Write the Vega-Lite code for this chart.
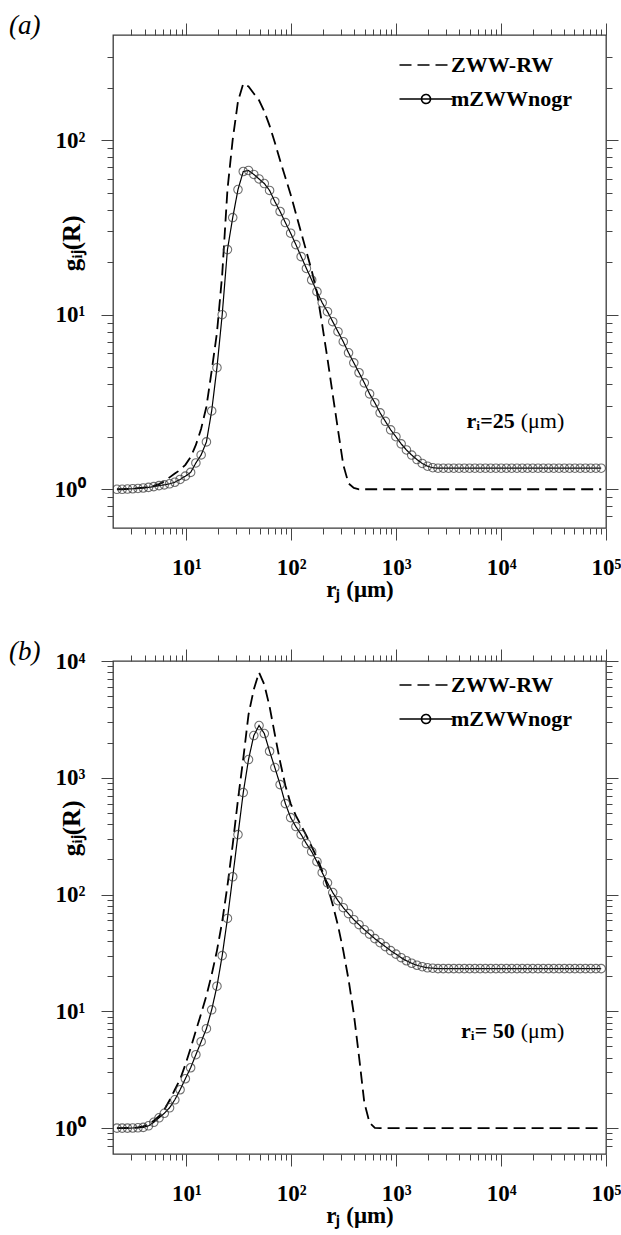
{
  "$schema": "https://vega.github.io/schema/vega-lite/v6.json",
  "background": "white",
  "padding": {"left": 8, "top": 10, "right": 5, "bottom": 5},
  "spacing": 34,
  "config": {
    "view": {"stroke": "#3a3a3a", "strokeWidth": 1.3},
    "axis": {"domain": false, "grid": false, "tickColor": "#444", "tickWidth": 1, "labelFont": "Liberation Serif", "labelFontWeight": "bold", "labelFontSize": 23, "labelColor": "black", "titleFont": "Liberation Serif", "titleFontWeight": "bold", "titleFontSize": 22, "titleColor": "black", "labelFlush": false, "labelOverlap": false, "labelBound": false},
    "legend": {"labelFont": "Liberation Serif", "labelFontWeight": "bold", "labelFontSize": 22, "labelColor": "black"}
  },
  "datasets": {
    "a": [
      {"r":2.18,"g":1,"model":"ZWW-RW"},{"r":2.447,"g":1,"model":"ZWW-RW"},{"r":2.747,"g":1.004,"model":"ZWW-RW"},{"r":3.083,"g":1.009,"model":"ZWW-RW"},{"r":3.461,"g":1.015,"model":"ZWW-RW"},{"r":3.884,"g":1.021,"model":"ZWW-RW"},
      {"r":4.36,"g":1.031,"model":"ZWW-RW"},{"r":4.894,"g":1.045,"model":"ZWW-RW"},{"r":5.493,"g":1.07,"model":"ZWW-RW"},{"r":6.166,"g":1.11,"model":"ZWW-RW"},{"r":6.921,"g":1.17,"model":"ZWW-RW"},{"r":7.769,"g":1.23,"model":"ZWW-RW"},
      {"r":8.72,"g":1.29,"model":"ZWW-RW"},{"r":9.788,"g":1.38,"model":"ZWW-RW"},{"r":10.99,"g":1.53,"model":"ZWW-RW"},{"r":12.33,"g":1.795,"model":"ZWW-RW"},{"r":13.84,"g":2.22,"model":"ZWW-RW"},{"r":15.54,"g":2.97,"model":"ZWW-RW"},
      {"r":17.44,"g":4.77,"model":"ZWW-RW"},{"r":19.58,"g":7.88,"model":"ZWW-RW"},{"r":21.97,"g":16.96,"model":"ZWW-RW"},{"r":24.66,"g":52.1,"model":"ZWW-RW"},{"r":27.68,"g":101,"model":"ZWW-RW"},{"r":31.07,"g":167,"model":"ZWW-RW"},
      {"r":34.88,"g":211,"model":"ZWW-RW"},{"r":39.15,"g":203,"model":"ZWW-RW"},{"r":43.95,"g":185,"model":"ZWW-RW"},{"r":49.33,"g":169,"model":"ZWW-RW"},{"r":55.37,"g":146,"model":"ZWW-RW"},{"r":62.15,"g":121,"model":"ZWW-RW"},
      {"r":69.76,"g":97,"model":"ZWW-RW"},{"r":78.3,"g":76.5,"model":"ZWW-RW"},{"r":87.89,"g":61.1,"model":"ZWW-RW"},{"r":98.66,"g":48.8,"model":"ZWW-RW"},{"r":110.7,"g":38,"model":"ZWW-RW"},{"r":124.3,"g":29.5,"model":"ZWW-RW"},
      {"r":139.5,"g":23,"model":"ZWW-RW"},{"r":156.6,"g":17.9,"model":"ZWW-RW"},{"r":175.8,"g":13.4,"model":"ZWW-RW"},{"r":197.3,"g":8.76,"model":"ZWW-RW"},{"r":221.5,"g":5.59,"model":"ZWW-RW"},{"r":248.6,"g":3.48,"model":"ZWW-RW"},
      {"r":279,"g":2.19,"model":"ZWW-RW"},{"r":313.2,"g":1.38,"model":"ZWW-RW"},{"r":351.6,"g":1.08,"model":"ZWW-RW"},{"r":394.6,"g":1.017,"model":"ZWW-RW"},{"r":442.9,"g":1,"model":"ZWW-RW"},{"r":497.2,"g":1,"model":"ZWW-RW"},
      {"r":558.1,"g":1,"model":"ZWW-RW"},{"r":626.4,"g":1,"model":"ZWW-RW"},{"r":703.1,"g":1,"model":"ZWW-RW"},{"r":789.2,"g":1,"model":"ZWW-RW"},{"r":885.9,"g":1,"model":"ZWW-RW"},{"r":994.4,"g":1,"model":"ZWW-RW"},
      {"r":1116,"g":1,"model":"ZWW-RW"},{"r":1253,"g":1,"model":"ZWW-RW"},{"r":1406,"g":1,"model":"ZWW-RW"},{"r":1579,"g":1,"model":"ZWW-RW"},{"r":1772,"g":1,"model":"ZWW-RW"},{"r":1989,"g":1,"model":"ZWW-RW"},
      {"r":2232,"g":1,"model":"ZWW-RW"},{"r":2506,"g":1,"model":"ZWW-RW"},{"r":2813,"g":1,"model":"ZWW-RW"},{"r":3157,"g":1,"model":"ZWW-RW"},{"r":3544,"g":1,"model":"ZWW-RW"},{"r":3978,"g":1,"model":"ZWW-RW"},
      {"r":4465,"g":1,"model":"ZWW-RW"},{"r":5012,"g":1,"model":"ZWW-RW"},{"r":5625,"g":1,"model":"ZWW-RW"},{"r":6314,"g":1,"model":"ZWW-RW"},{"r":7087,"g":1,"model":"ZWW-RW"},{"r":7955,"g":1,"model":"ZWW-RW"},
      {"r":8929,"g":1,"model":"ZWW-RW"},{"r":10022,"g":1,"model":"ZWW-RW"},{"r":11250,"g":1,"model":"ZWW-RW"},{"r":12627,"g":1,"model":"ZWW-RW"},{"r":14174,"g":1,"model":"ZWW-RW"},{"r":15909,"g":1,"model":"ZWW-RW"},
      {"r":17858,"g":1,"model":"ZWW-RW"},{"r":20045,"g":1,"model":"ZWW-RW"},{"r":22500,"g":1,"model":"ZWW-RW"},{"r":25255,"g":1,"model":"ZWW-RW"},{"r":28348,"g":1,"model":"ZWW-RW"},{"r":31818,"g":1,"model":"ZWW-RW"},
      {"r":35717,"g":1,"model":"ZWW-RW"},{"r":40090,"g":1,"model":"ZWW-RW"},{"r":45000,"g":1,"model":"ZWW-RW"},{"r":50511,"g":1,"model":"ZWW-RW"},{"r":56696,"g":1,"model":"ZWW-RW"},{"r":63637,"g":1,"model":"ZWW-RW"},
      {"r":71434,"g":1,"model":"ZWW-RW"},{"r":80182,"g":1,"model":"ZWW-RW"},{"r":90001,"g":1,"model":"ZWW-RW"},

      {"r":2.18,"g":1,"model":"mZWWnogr"},{"r":2.447,"g":1,"model":"mZWWnogr"},{"r":2.747,"g":1.003,"model":"mZWWnogr"},{"r":3.083,"g":1.007,"model":"mZWWnogr"},{"r":3.461,"g":1.011,"model":"mZWWnogr"},{"r":3.884,"g":1.017,"model":"mZWWnogr"},
      {"r":4.36,"g":1.025,"model":"mZWWnogr"},{"r":4.894,"g":1.036,"model":"mZWWnogr"},{"r":5.493,"g":1.049,"model":"mZWWnogr"},{"r":6.166,"g":1.06,"model":"mZWWnogr"},{"r":6.921,"g":1.075,"model":"mZWWnogr"},{"r":7.769,"g":1.097,"model":"mZWWnogr"},
      {"r":8.72,"g":1.138,"model":"mZWWnogr"},{"r":9.788,"g":1.189,"model":"mZWWnogr"},{"r":10.99,"g":1.249,"model":"mZWWnogr"},{"r":12.33,"g":1.415,"model":"mZWWnogr"},{"r":13.84,"g":1.573,"model":"mZWWnogr"},{"r":15.54,"g":1.868,"model":"mZWWnogr"},
      {"r":17.44,"g":2.81,"model":"mZWWnogr"},{"r":19.58,"g":4.97,"model":"mZWWnogr"},{"r":21.97,"g":10,"model":"mZWWnogr"},{"r":24.66,"g":23.6,"model":"mZWWnogr"},{"r":27.68,"g":36,"model":"mZWWnogr"},{"r":31.07,"g":52.1,"model":"mZWWnogr"},
      {"r":34.88,"g":66.1,"model":"mZWWnogr"},{"r":39.15,"g":67,"model":"mZWWnogr"},{"r":43.95,"g":63.6,"model":"mZWWnogr"},{"r":49.33,"g":59.9,"model":"mZWWnogr"},{"r":55.37,"g":56.4,"model":"mZWWnogr"},{"r":62.15,"g":51.5,"model":"mZWWnogr"},
      {"r":69.76,"g":44.5,"model":"mZWWnogr"},{"r":78.3,"g":39,"model":"mZWWnogr"},{"r":87.89,"g":33.7,"model":"mZWWnogr"},{"r":98.66,"g":29.3,"model":"mZWWnogr"},{"r":110.7,"g":25.2,"model":"mZWWnogr"},{"r":124.3,"g":21.5,"model":"mZWWnogr"},
      {"r":139.5,"g":18.4,"model":"mZWWnogr"},{"r":156.6,"g":15.8,"model":"mZWWnogr"},{"r":175.8,"g":13.55,"model":"mZWWnogr"},{"r":197.3,"g":11.7,"model":"mZWWnogr"},{"r":221.5,"g":10.4,"model":"mZWWnogr"},{"r":248.6,"g":9.12,"model":"mZWWnogr"},
      {"r":279,"g":7.99,"model":"mZWWnogr"},{"r":313.2,"g":7,"model":"mZWWnogr"},{"r":351.6,"g":6.05,"model":"mZWWnogr"},{"r":394.6,"g":5.3,"model":"mZWWnogr"},{"r":442.9,"g":4.65,"model":"mZWWnogr"},{"r":497.2,"g":4.07,"model":"mZWWnogr"},
      {"r":558.1,"g":3.52,"model":"mZWWnogr"},{"r":626.4,"g":3.13,"model":"mZWWnogr"},{"r":703.1,"g":2.74,"model":"mZWWnogr"},{"r":789.2,"g":2.45,"model":"mZWWnogr"},{"r":885.9,"g":2.19,"model":"mZWWnogr"},{"r":994.4,"g":2,"model":"mZWWnogr"},
      {"r":1116,"g":1.82,"model":"mZWWnogr"},{"r":1253,"g":1.68,"model":"mZWWnogr"},{"r":1406,"g":1.57,"model":"mZWWnogr"},{"r":1579,"g":1.48,"model":"mZWWnogr"},{"r":1772,"g":1.406,"model":"mZWWnogr"},{"r":1989,"g":1.355,"model":"mZWWnogr"},
      {"r":2232,"g":1.329,"model":"mZWWnogr"},{"r":2506,"g":1.32,"model":"mZWWnogr"},{"r":2813,"g":1.32,"model":"mZWWnogr"},{"r":3157,"g":1.32,"model":"mZWWnogr"},{"r":3544,"g":1.32,"model":"mZWWnogr"},{"r":3978,"g":1.32,"model":"mZWWnogr"},
      {"r":4465,"g":1.32,"model":"mZWWnogr"},{"r":5012,"g":1.32,"model":"mZWWnogr"},{"r":5625,"g":1.32,"model":"mZWWnogr"},{"r":6314,"g":1.32,"model":"mZWWnogr"},{"r":7087,"g":1.32,"model":"mZWWnogr"},{"r":7955,"g":1.32,"model":"mZWWnogr"},
      {"r":8929,"g":1.32,"model":"mZWWnogr"},{"r":10022,"g":1.32,"model":"mZWWnogr"},{"r":11250,"g":1.32,"model":"mZWWnogr"},{"r":12627,"g":1.32,"model":"mZWWnogr"},{"r":14174,"g":1.32,"model":"mZWWnogr"},{"r":15909,"g":1.32,"model":"mZWWnogr"},
      {"r":17858,"g":1.32,"model":"mZWWnogr"},{"r":20045,"g":1.32,"model":"mZWWnogr"},{"r":22500,"g":1.32,"model":"mZWWnogr"},{"r":25255,"g":1.32,"model":"mZWWnogr"},{"r":28348,"g":1.32,"model":"mZWWnogr"},{"r":31818,"g":1.32,"model":"mZWWnogr"},
      {"r":35717,"g":1.32,"model":"mZWWnogr"},{"r":40090,"g":1.32,"model":"mZWWnogr"},{"r":45000,"g":1.32,"model":"mZWWnogr"},{"r":50511,"g":1.32,"model":"mZWWnogr"},{"r":56696,"g":1.32,"model":"mZWWnogr"},{"r":63637,"g":1.32,"model":"mZWWnogr"},
      {"r":71434,"g":1.32,"model":"mZWWnogr"},{"r":80182,"g":1.32,"model":"mZWWnogr"},{"r":90001,"g":1.32,"model":"mZWWnogr"}
    ],
    "b": [
      {"r":2.18,"g":1,"model":"ZWW-RW"},{"r":2.447,"g":1,"model":"ZWW-RW"},{"r":2.747,"g":1.002,"model":"ZWW-RW"},{"r":3.083,"g":1.006,"model":"ZWW-RW"},{"r":3.461,"g":1.016,"model":"ZWW-RW"},{"r":3.884,"g":1.036,"model":"ZWW-RW"},
      {"r":4.36,"g":1.078,"model":"ZWW-RW"},{"r":4.894,"g":1.155,"model":"ZWW-RW"},{"r":5.493,"g":1.262,"model":"ZWW-RW"},{"r":6.166,"g":1.435,"model":"ZWW-RW"},{"r":6.921,"g":1.73,"model":"ZWW-RW"},{"r":7.769,"g":2.13,"model":"ZWW-RW"},
      {"r":8.72,"g":2.62,"model":"ZWW-RW"},{"r":9.788,"g":3.49,"model":"ZWW-RW"},{"r":10.99,"g":4.83,"model":"ZWW-RW"},{"r":12.33,"g":6.82,"model":"ZWW-RW"},{"r":13.84,"g":9.54,"model":"ZWW-RW"},{"r":15.54,"g":13.6,"model":"ZWW-RW"},
      {"r":17.44,"g":20.6,"model":"ZWW-RW"},{"r":19.58,"g":33.1,"model":"ZWW-RW"},{"r":21.97,"g":58.6,"model":"ZWW-RW"},{"r":24.66,"g":119,"model":"ZWW-RW"},{"r":27.68,"g":268,"model":"ZWW-RW"},{"r":31.07,"g":651,"model":"ZWW-RW"},
      {"r":34.88,"g":1461,"model":"ZWW-RW"},{"r":39.15,"g":3479,"model":"ZWW-RW"},{"r":43.95,"g":5700,"model":"ZWW-RW"},{"r":49.33,"g":7970,"model":"ZWW-RW"},{"r":55.37,"g":6290,"model":"ZWW-RW"},{"r":62.15,"g":4075,"model":"ZWW-RW"},
      {"r":69.76,"g":2346,"model":"ZWW-RW"},{"r":78.3,"g":1376,"model":"ZWW-RW"},{"r":87.89,"g":858,"model":"ZWW-RW"},{"r":98.66,"g":601,"model":"ZWW-RW"},{"r":110.7,"g":474,"model":"ZWW-RW"},{"r":124.3,"g":389,"model":"ZWW-RW"},
      {"r":139.5,"g":320,"model":"ZWW-RW"},{"r":156.6,"g":257,"model":"ZWW-RW"},{"r":175.8,"g":207,"model":"ZWW-RW"},{"r":197.3,"g":160,"model":"ZWW-RW"},{"r":221.5,"g":117,"model":"ZWW-RW"},{"r":248.6,"g":81.9,"model":"ZWW-RW"},
      {"r":279,"g":54.1,"model":"ZWW-RW"},{"r":313.2,"g":33.1,"model":"ZWW-RW"},{"r":351.6,"g":18.7,"model":"ZWW-RW"},{"r":394.6,"g":9.54,"model":"ZWW-RW"},{"r":442.9,"g":4.08,"model":"ZWW-RW"},{"r":497.2,"g":1.65,"model":"ZWW-RW"},
      {"r":558.1,"g":1.11,"model":"ZWW-RW"},{"r":626.4,"g":1.006,"model":"ZWW-RW"},{"r":703.1,"g":1,"model":"ZWW-RW"},{"r":789.2,"g":1,"model":"ZWW-RW"},{"r":885.9,"g":1,"model":"ZWW-RW"},{"r":994.4,"g":1,"model":"ZWW-RW"},
      {"r":1116,"g":1,"model":"ZWW-RW"},{"r":1253,"g":1,"model":"ZWW-RW"},{"r":1406,"g":1,"model":"ZWW-RW"},{"r":1579,"g":1,"model":"ZWW-RW"},{"r":1772,"g":1,"model":"ZWW-RW"},{"r":1989,"g":1,"model":"ZWW-RW"},
      {"r":2232,"g":1,"model":"ZWW-RW"},{"r":2506,"g":1,"model":"ZWW-RW"},{"r":2813,"g":1,"model":"ZWW-RW"},{"r":3157,"g":1,"model":"ZWW-RW"},{"r":3544,"g":1,"model":"ZWW-RW"},{"r":3978,"g":1,"model":"ZWW-RW"},
      {"r":4465,"g":1,"model":"ZWW-RW"},{"r":5012,"g":1,"model":"ZWW-RW"},{"r":5625,"g":1,"model":"ZWW-RW"},{"r":6314,"g":1,"model":"ZWW-RW"},{"r":7087,"g":1,"model":"ZWW-RW"},{"r":7955,"g":1,"model":"ZWW-RW"},
      {"r":8929,"g":1,"model":"ZWW-RW"},{"r":10022,"g":1,"model":"ZWW-RW"},{"r":11250,"g":1,"model":"ZWW-RW"},{"r":12627,"g":1,"model":"ZWW-RW"},{"r":14174,"g":1,"model":"ZWW-RW"},{"r":15909,"g":1,"model":"ZWW-RW"},
      {"r":17858,"g":1,"model":"ZWW-RW"},{"r":20045,"g":1,"model":"ZWW-RW"},{"r":22500,"g":1,"model":"ZWW-RW"},{"r":25255,"g":1,"model":"ZWW-RW"},{"r":28348,"g":1,"model":"ZWW-RW"},{"r":31818,"g":1,"model":"ZWW-RW"},
      {"r":35717,"g":1,"model":"ZWW-RW"},{"r":40090,"g":1,"model":"ZWW-RW"},{"r":45000,"g":1,"model":"ZWW-RW"},{"r":50511,"g":1,"model":"ZWW-RW"},{"r":56696,"g":1,"model":"ZWW-RW"},{"r":63637,"g":1,"model":"ZWW-RW"},
      {"r":71434,"g":1,"model":"ZWW-RW"},{"r":80182,"g":1,"model":"ZWW-RW"},{"r":90001,"g":1,"model":"ZWW-RW"},

      {"r":2.18,"g":1,"model":"mZWWnogr"},{"r":2.447,"g":1,"model":"mZWWnogr"},{"r":2.747,"g":1,"model":"mZWWnogr"},{"r":3.083,"g":1.002,"model":"mZWWnogr"},{"r":3.461,"g":1.006,"model":"mZWWnogr"},{"r":3.884,"g":1.014,"model":"mZWWnogr"},
      {"r":4.36,"g":1.046,"model":"mZWWnogr"},{"r":4.894,"g":1.121,"model":"mZWWnogr"},{"r":5.493,"g":1.225,"model":"mZWWnogr"},{"r":6.166,"g":1.339,"model":"mZWWnogr"},{"r":6.921,"g":1.493,"model":"mZWWnogr"},{"r":7.769,"g":1.748,"model":"mZWWnogr"},
      {"r":8.72,"g":2.13,"model":"mZWWnogr"},{"r":9.788,"g":2.646,"model":"mZWWnogr"},{"r":10.99,"g":3.287,"model":"mZWWnogr"},{"r":12.33,"g":4.25,"model":"mZWWnogr"},{"r":13.84,"g":5.49,"model":"mZWWnogr"},{"r":15.54,"g":7.1,"model":"mZWWnogr"},
      {"r":17.44,"g":10.3,"model":"mZWWnogr"},{"r":19.58,"g":16.4,"model":"mZWWnogr"},{"r":21.97,"g":30,"model":"mZWWnogr"},{"r":24.66,"g":62.4,"model":"mZWWnogr"},{"r":27.68,"g":142,"model":"mZWWnogr"},{"r":31.07,"g":326,"model":"mZWWnogr"},
      {"r":34.88,"g":747,"model":"mZWWnogr"},{"r":39.15,"g":1432,"model":"mZWWnogr"},{"r":43.95,"g":2299,"model":"mZWWnogr"},{"r":49.33,"g":2802,"model":"mZWWnogr"},{"r":55.37,"g":2392,"model":"mZWWnogr"},{"r":62.15,"g":1687,"model":"mZWWnogr"},
      {"r":69.76,"g":1223,"model":"mZWWnogr"},{"r":78.3,"g":874,"model":"mZWWnogr"},{"r":87.89,"g":601,"model":"mZWWnogr"},{"r":98.66,"g":456,"model":"mZWWnogr"},{"r":110.7,"g":382,"model":"mZWWnogr"},{"r":124.3,"g":326,"model":"mZWWnogr"},
      {"r":139.5,"g":273,"model":"mZWWnogr"},{"r":156.6,"g":233,"model":"mZWWnogr"},{"r":175.8,"g":191,"model":"mZWWnogr"},{"r":197.3,"g":154,"model":"mZWWnogr"},{"r":221.5,"g":126,"model":"mZWWnogr"},{"r":248.6,"g":104,"model":"mZWWnogr"},
      {"r":279,"g":88.6,"model":"mZWWnogr"},{"r":313.2,"g":77.2,"model":"mZWWnogr"},{"r":351.6,"g":68.6,"model":"mZWWnogr"},{"r":394.6,"g":60.9,"model":"mZWWnogr"},{"r":442.9,"g":55.2,"model":"mZWWnogr"},{"r":497.2,"g":50,"model":"mZWWnogr"},
      {"r":558.1,"g":45.8,"model":"mZWWnogr"},{"r":626.4,"g":41.9,"model":"mZWWnogr"},{"r":703.1,"g":38.7,"model":"mZWWnogr"},{"r":789.2,"g":35.8,"model":"mZWWnogr"},{"r":885.9,"g":33.1,"model":"mZWWnogr"},{"r":994.4,"g":30.9,"model":"mZWWnogr"},
      {"r":1116,"g":28.8,"model":"mZWWnogr"},{"r":1253,"g":27.1,"model":"mZWWnogr"},{"r":1406,"g":25.8,"model":"mZWWnogr"},{"r":1579,"g":24.8,"model":"mZWWnogr"},{"r":1772,"g":24.1,"model":"mZWWnogr"},{"r":1989,"g":23.6,"model":"mZWWnogr"},
      {"r":2232,"g":23.4,"model":"mZWWnogr"},{"r":2506,"g":23.2,"model":"mZWWnogr"},{"r":2813,"g":23.2,"model":"mZWWnogr"},{"r":3157,"g":23.2,"model":"mZWWnogr"},{"r":3544,"g":23.2,"model":"mZWWnogr"},{"r":3978,"g":23.2,"model":"mZWWnogr"},
      {"r":4465,"g":23.2,"model":"mZWWnogr"},{"r":5012,"g":23.2,"model":"mZWWnogr"},{"r":5625,"g":23.2,"model":"mZWWnogr"},{"r":6314,"g":23.2,"model":"mZWWnogr"},{"r":7087,"g":23.2,"model":"mZWWnogr"},{"r":7955,"g":23.2,"model":"mZWWnogr"},
      {"r":8929,"g":23.2,"model":"mZWWnogr"},{"r":10022,"g":23.2,"model":"mZWWnogr"},{"r":11250,"g":23.2,"model":"mZWWnogr"},{"r":12627,"g":23.2,"model":"mZWWnogr"},{"r":14174,"g":23.2,"model":"mZWWnogr"},{"r":15909,"g":23.2,"model":"mZWWnogr"},
      {"r":17858,"g":23.2,"model":"mZWWnogr"},{"r":20045,"g":23.2,"model":"mZWWnogr"},{"r":22500,"g":23.2,"model":"mZWWnogr"},{"r":25255,"g":23.2,"model":"mZWWnogr"},{"r":28348,"g":23.2,"model":"mZWWnogr"},{"r":31818,"g":23.2,"model":"mZWWnogr"},
      {"r":35717,"g":23.2,"model":"mZWWnogr"},{"r":40090,"g":23.2,"model":"mZWWnogr"},{"r":45000,"g":23.2,"model":"mZWWnogr"},{"r":50511,"g":23.2,"model":"mZWWnogr"},{"r":56696,"g":23.2,"model":"mZWWnogr"},{"r":63637,"g":23.2,"model":"mZWWnogr"},
      {"r":71434,"g":23.2,"model":"mZWWnogr"},{"r":80182,"g":23.2,"model":"mZWWnogr"},{"r":90001,"g":23.2,"model":"mZWWnogr"}
    ]
  },
  "vconcat": [
    {
      "title": {"text": "(a)", "anchor": "start", "frame": "group", "dx": -104, "dy": 17, "offset": 0, "font": "Liberation Serif", "fontStyle": "italic", "fontWeight": "normal", "fontSize": 27, "color": "black"},
      "width": 493,
      "height": 493,
      "data": {"name": "a"},
      "layer": [
        {
          "transform": [{"filter": "datum.model === 'ZWW-RW'"}],
          "mark": {"type": "line", "color": "black", "strokeWidth": 1.8, "clip": true},
          "encoding": {
            "x": {"field": "r", "type": "quantitative", "scale": {"type": "log", "domain": [2, 100000], "nice": false},
              "axis": {"orient": "bottom", "values": [3,4,5,6,7,8,9,10,20,30,40,50,60,70,80,90,100,200,300,400,500,600,700,800,900,1000,2000,3000,4000,5000,6000,7000,8000,9000,10000,20000,30000,40000,50000,60000,70000,80000,90000,100000],
                "labelExpr": "datum.value == 10 ? '10¹' : datum.value == 100 ? '10²' : datum.value == 1000 ? '10³' : datum.value == 10000 ? '10⁴' : datum.value == 100000 ? '10⁵' : ''",
                "tickSize": {"condition": {"test": "datum.value == 10 || datum.value == 100 || datum.value == 1000 || datum.value == 10000 || datum.value == 100000", "value": 12}, "value": 6},
                "labelPadding": 16, "title": "rⱼ (μm)", "titleFontSize": 23, "titleX": 246.5, "titleY": 61, "titleBaseline": "middle"}},
            "y": {"field": "g", "type": "quantitative", "scale": {"type": "log", "domain": [0.6, 400], "nice": false},
              "axis": {"orient": "left", "values": [0.7,0.8,0.9,1,2,3,4,5,6,7,8,9,10,20,30,40,50,60,70,80,90,100,200,300],
                "labelExpr": "datum.value == 1 ? '10⁰' : datum.value == 10 ? '10¹' : datum.value == 100 ? '10²' : ''",
                "tickSize": {"condition": {"test": "datum.value == 1 || datum.value == 10 || datum.value == 100", "value": 12}, "value": 6},
                "labelPadding": 16, "title": "gᵢⱼ(R)", "titleFontSize": 25, "titleAngle": -90, "titleAlign": "right", "titleX": -42, "titleY": 180, "titleBaseline": "middle"}},
            "strokeDash": {"field": "model", "type": "nominal", "scale": {"domain": ["ZWW-RW", "mZWWnogr"], "range": [[12, 6], [1, 0]]},
              "legend": {"orient": "none", "legendX": 302, "legendY": 19, "title": null, "symbolSize": 400, "symbolStrokeWidth": 1.6, "symbolStrokeColor": "black", "symbolFillColor": "transparent", "labelOffset": 14, "rowPadding": 12,
                "encode": {"symbols": {"update": {"shape": {"signal": "datum.value === 'ZWW-RW' ? 'M-2.65,0H2.65' : 'M-2.65,0H2.65M-0.45,0A0.45,0.45,0,1,0,0.45,0A0.45,0.45,0,1,0,-0.45,0'"}}}}}}
          }
        },
        {
          "transform": [{"filter": "datum.model === 'mZWWnogr'"}],
          "mark": {"type": "line", "color": "black", "strokeWidth": 1.2, "clip": true},
          "encoding": {
            "x": {"field": "r", "type": "quantitative", "axis": null},
            "y": {"field": "g", "type": "quantitative", "axis": null},
            "strokeDash": {"field": "model", "type": "nominal"}
          }
        },
        {
          "transform": [{"filter": "datum.model === 'mZWWnogr'"}],
          "mark": {"type": "point", "shape": "circle", "filled": false, "size": 72, "color": "#333", "strokeWidth": 1.1, "clip": true},
          "encoding": {
            "x": {"field": "r", "type": "quantitative",
              "axis": {"orient": "top", "values": [3,4,5,6,7,8,9,10,20,30,40,50,60,70,80,90,100,200,300,400,500,600,700,800,900,1000,2000,3000,4000,5000,6000,7000,8000,9000,10000,20000,30000,40000,50000,60000,70000,80000,90000,100000], "labels": false, "title": null,
                "tickSize": {"condition": {"test": "datum.value == 10 || datum.value == 100 || datum.value == 1000 || datum.value == 10000 || datum.value == 100000", "value": 12}, "value": 6}}},
            "y": {"field": "g", "type": "quantitative",
              "axis": {"orient": "right", "values": [0.7,0.8,0.9,1,2,3,4,5,6,7,8,9,10,20,30,40,50,60,70,80,90,100,200,300], "labels": false, "title": null,
                "tickSize": {"condition": {"test": "datum.value == 1 || datum.value == 10 || datum.value == 100", "value": 12}, "value": 6}}}
          }
        },
        {
          "data": {"values": [{"r": 14400, "g": 2.45, "label": "rᵢ=25", "unit": "(μm)"}]},
          "mark": {"type": "text", "align": "right", "dx": -3, "baseline": "middle", "font": "Liberation Serif", "fontWeight": "bold", "fontSize": 22, "color": "black"},
          "encoding": {
            "x": {"field": "r", "type": "quantitative", "axis": null},
            "y": {"field": "g", "type": "quantitative", "axis": null},
            "text": {"field": "label"}
          }
        },
        {
          "data": {"values": [{"r": 14400, "g": 2.45, "label": "rᵢ=25", "unit": "(μm)"}]},
          "mark": {"type": "text", "align": "left", "dx": 3, "baseline": "middle", "font": "Liberation Serif", "fontWeight": "normal", "fontSize": 22, "color": "black"},
          "encoding": {
            "x": {"field": "r", "type": "quantitative", "axis": null},
            "y": {"field": "g", "type": "quantitative", "axis": null},
            "text": {"field": "unit"}
          }
        }
      ],
      "resolve": {"axis": {"x": "independent", "y": "independent"}}
    },
    {
      "title": {"text": "(b)", "anchor": "start", "frame": "group", "dx": -104, "dy": 17, "offset": 0, "font": "Liberation Serif", "fontStyle": "italic", "fontWeight": "normal", "fontSize": 27, "color": "black"},
      "width": 493,
      "height": 493,
      "data": {"name": "b"},
      "layer": [
        {
          "transform": [{"filter": "datum.model === 'ZWW-RW'"}],
          "mark": {"type": "line", "color": "black", "strokeWidth": 1.8, "clip": true},
          "encoding": {
            "x": {"field": "r", "type": "quantitative", "scale": {"type": "log", "domain": [2, 100000], "nice": false},
              "axis": {"orient": "bottom", "values": [3,4,5,6,7,8,9,10,20,30,40,50,60,70,80,90,100,200,300,400,500,600,700,800,900,1000,2000,3000,4000,5000,6000,7000,8000,9000,10000,20000,30000,40000,50000,60000,70000,80000,90000,100000],
                "labelExpr": "datum.value == 10 ? '10¹' : datum.value == 100 ? '10²' : datum.value == 1000 ? '10³' : datum.value == 10000 ? '10⁴' : datum.value == 100000 ? '10⁵' : ''",
                "tickSize": {"condition": {"test": "datum.value == 10 || datum.value == 100 || datum.value == 1000 || datum.value == 10000 || datum.value == 100000", "value": 12}, "value": 6},
                "labelPadding": 16, "title": "rⱼ (μm)", "titleFontSize": 23, "titleX": 246.5, "titleY": 61, "titleBaseline": "middle"}},
            "y": {"field": "g", "type": "quantitative", "scale": {"type": "log", "domain": [0.6, 10000], "nice": false},
              "axis": {"orient": "left", "values": [0.7,0.8,0.9,1,2,3,4,5,6,7,8,9,10,20,30,40,50,60,70,80,90,100,200,300,400,500,600,700,800,900,1000,2000,3000,4000,5000,6000,7000,8000,9000,10000],
                "labelExpr": "datum.value == 1 ? '10⁰' : datum.value == 10 ? '10¹' : datum.value == 100 ? '10²' : datum.value == 1000 ? '10³' : datum.value == 10000 ? '10⁴' : ''",
                "tickSize": {"condition": {"test": "datum.value == 1 || datum.value == 10 || datum.value == 100 || datum.value == 1000 || datum.value == 10000", "value": 12}, "value": 6},
                "labelPadding": 16, "title": "gᵢⱼ(R)", "titleFontSize": 25, "titleAngle": -90, "titleAlign": "right", "titleX": -42, "titleY": 139, "titleBaseline": "middle"}},
            "strokeDash": {"field": "model", "type": "nominal", "scale": {"domain": ["ZWW-RW", "mZWWnogr"], "range": [[12, 6], [1, 0]]},
              "legend": {"orient": "none", "legendX": 302, "legendY": 13, "title": null, "symbolSize": 400, "symbolStrokeWidth": 1.6, "symbolStrokeColor": "black", "symbolFillColor": "transparent", "labelOffset": 14, "rowPadding": 12,
                "encode": {"symbols": {"update": {"shape": {"signal": "datum.value === 'ZWW-RW' ? 'M-2.65,0H2.65' : 'M-2.65,0H2.65M-0.45,0A0.45,0.45,0,1,0,0.45,0A0.45,0.45,0,1,0,-0.45,0'"}}}}}}
          }
        },
        {
          "transform": [{"filter": "datum.model === 'mZWWnogr'"}],
          "mark": {"type": "line", "color": "black", "strokeWidth": 1.2, "clip": true},
          "encoding": {
            "x": {"field": "r", "type": "quantitative", "axis": null},
            "y": {"field": "g", "type": "quantitative", "axis": null},
            "strokeDash": {"field": "model", "type": "nominal"}
          }
        },
        {
          "transform": [{"filter": "datum.model === 'mZWWnogr'"}],
          "mark": {"type": "point", "shape": "circle", "filled": false, "size": 72, "color": "#333", "strokeWidth": 1.1, "clip": true},
          "encoding": {
            "x": {"field": "r", "type": "quantitative",
              "axis": {"orient": "top", "values": [3,4,5,6,7,8,9,10,20,30,40,50,60,70,80,90,100,200,300,400,500,600,700,800,900,1000,2000,3000,4000,5000,6000,7000,8000,9000,10000,20000,30000,40000,50000,60000,70000,80000,90000,100000], "labels": false, "title": null,
                "tickSize": {"condition": {"test": "datum.value == 10 || datum.value == 100 || datum.value == 1000 || datum.value == 10000 || datum.value == 100000", "value": 12}, "value": 6}}},
            "y": {"field": "g", "type": "quantitative",
              "axis": {"orient": "right", "values": [0.7,0.8,0.9,1,2,3,4,5,6,7,8,9,10,20,30,40,50,60,70,80,90,100,200,300,400,500,600,700,800,900,1000,2000,3000,4000,5000,6000,7000,8000,9000,10000], "labels": false, "title": null,
                "tickSize": {"condition": {"test": "datum.value == 1 || datum.value == 10 || datum.value == 100 || datum.value == 1000 || datum.value == 10000", "value": 12}, "value": 6}}}
          }
        },
        {
          "data": {"values": [{"r": 14400, "g": 6.73, "label": "rᵢ= 50", "unit": "(μm)"}]},
          "mark": {"type": "text", "align": "right", "dx": -3, "baseline": "middle", "font": "Liberation Serif", "fontWeight": "bold", "fontSize": 22, "color": "black"},
          "encoding": {
            "x": {"field": "r", "type": "quantitative", "axis": null},
            "y": {"field": "g", "type": "quantitative", "axis": null},
            "text": {"field": "label"}
          }
        },
        {
          "data": {"values": [{"r": 14400, "g": 6.73, "label": "rᵢ= 50", "unit": "(μm)"}]},
          "mark": {"type": "text", "align": "left", "dx": 3, "baseline": "middle", "font": "Liberation Serif", "fontWeight": "normal", "fontSize": 22, "color": "black"},
          "encoding": {
            "x": {"field": "r", "type": "quantitative", "axis": null},
            "y": {"field": "g", "type": "quantitative", "axis": null},
            "text": {"field": "unit"}
          }
        }
      ],
      "resolve": {"axis": {"x": "independent", "y": "independent"}}
    }
  ],
  "resolve": {"scale": {"x": "independent", "y": "independent", "strokeDash": "independent"}, "axis": {"x": "independent", "y": "independent"}, "legend": {"strokeDash": "independent"}}
}
